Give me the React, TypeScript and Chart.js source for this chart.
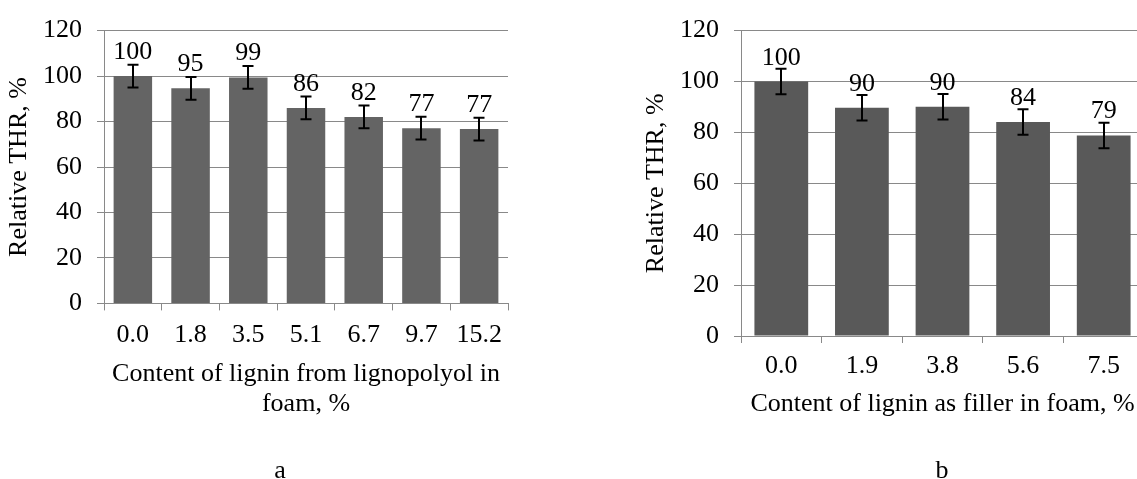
import React, { useEffect, useRef } from 'react';
import { Chart, registerables } from 'chart.js';

Chart.register(...registerables);

const FONT = "'Liberation Serif', 'Times New Roman', serif";

// Chart a
const categoriesA = ['0.0', '1.8', '3.5', '5.1', '6.7', '9.7', '15.2'];
const valuesA = [100, 94.6, 99.4, 86.0, 82.0, 77.1, 76.7];
const errorsA = [5, 5, 5, 5, 5, 5, 5];
const xTitleA = ['Content of lignin from lignopolyol in', 'foam, %'];

// Chart b
const categoriesB = ['0.0', '1.9', '3.8', '5.6', '7.5'];
const valuesB = [100, 89.7, 90.1, 84.1, 78.8];
const errorsB = [5, 5, 5, 5, 5];
const xTitleB = 'Content of lignin as filler in foam, %';

const yTitle = 'Relative THR, %';
const yMin = 0;
const yMax = 120;
const yStep = 20;

const GRID = '#898989';

type Opts = {
  categories: string[];
  values: number[];
  errors: number[];
  color: string;
  xTitle: string | string[];
  caption: string;
  captionX: number;
  captionY: number;
  padTop: number;
  padRight: number;
  padBottom: number;
  yWidth: number;
  xHeight: number;
  xTickPad: number;
};

function extrasPlugin(o: Opts) {
  return {
    id: 'extras' + o.caption,
    afterDatasetsDraw(chart: any) {
      const ctx = chart.ctx;
      const meta = chart.getDatasetMeta(0);
      const ys = chart.scales.y;
      ctx.save();
      ctx.strokeStyle = '#000';
      ctx.lineWidth = 2;
      meta.data.forEach((bar: any, i: number) => {
        const v = o.values[i];
        const e = o.errors[i];
        const top = ys.getPixelForValue(v + e);
        const bot = ys.getPixelForValue(v - e);
        const x = Math.round(bar.x);
        ctx.beginPath();
        ctx.moveTo(x, top);
        ctx.lineTo(x, bot);
        ctx.moveTo(x - 5.5, top);
        ctx.lineTo(x + 5.5, top);
        ctx.moveTo(x - 5.5, bot);
        ctx.lineTo(x + 5.5, bot);
        ctx.stroke();
      });
      ctx.fillStyle = '#000';
      ctx.font = `26px ${FONT}`;
      ctx.textAlign = 'center';
      ctx.textBaseline = 'alphabetic';
      meta.data.forEach((bar: any, i: number) => {
        ctx.fillText(String(Math.round(o.values[i])), bar.x, bar.y - 17);
      });
      ctx.fillText(o.caption, o.captionX, o.captionY);
      ctx.restore();
    },
  };
}

function makeConfig(o: Opts): any {
  return {
    type: 'bar',
    data: {
      labels: o.categories,
      datasets: [
        {
          data: o.values,
          backgroundColor: o.color,
          borderWidth: 0,
          categoryPercentage: 1,
          barPercentage: 0.667,
        },
      ],
    },
    options: {
      animation: false,
      responsive: false,
      maintainAspectRatio: false,
      devicePixelRatio: 1,
      layout: { padding: { left: 0, top: o.padTop, right: o.padRight, bottom: o.padBottom } },
      plugins: { legend: { display: false }, tooltip: { enabled: false } },
      scales: {
        x: {
          offset: true,
          grid: {
            display: true,
            drawOnChartArea: false,
            drawTicks: true,
            tickLength: 7,
            offset: true,
            color: GRID,
            lineWidth: 1,
          },
          border: { display: true, color: GRID, width: 1 },
          ticks: {
            color: '#000',
            font: { family: FONT, size: 26 },
            padding: o.xTickPad,
            autoSkip: false,
            maxRotation: 0,
            minRotation: 0,
          },
          title: {
            display: true,
            text: o.xTitle,
            color: '#000',
            font: { family: FONT, size: 26, lineHeight: 1.173 },
            padding: { top: 0, bottom: 0 },
          },
          afterFit: (s: any) => {
            s.height = o.xHeight;
          },
        },
        y: {
          min: yMin,
          max: yMax,
          grid: { color: GRID, lineWidth: 1, tickLength: 7, drawTicks: true },
          border: { display: true, color: GRID, width: 1 },
          ticks: {
            stepSize: yStep,
            color: '#000',
            font: { family: FONT, size: 26 },
            padding: 15,
          },
          title: {
            display: true,
            text: yTitle,
            color: '#000',
            font: { family: FONT, size: 26, lineHeight: 1.2 },
            padding: { top: 3.6, bottom: 0 },
          },
          afterFit: (s: any) => {
            s.width = o.yWidth;
          },
        },
      },
    },
    plugins: [extrasPlugin(o)],
  };
}

const optsA: Opts = {
  categories: categoriesA,
  values: valuesA,
  errors: errorsA,
  color: '#646464',
  xTitle: xTitleA,
  caption: 'a',
  captionX: 280,
  captionY: 478,
  padTop: 25,
  padRight: 52,
  padBottom: 59.25,
  yWidth: 104,
  xHeight: 116.35,
  xTickPad: 9,
};

const optsB: Opts = {
  categories: categoriesB,
  values: valuesB,
  errors: errorsB,
  color: '#595959',
  xTitle: xTitleB,
  caption: 'b',
  captionX: 305,
  captionY: 478,
  padTop: 17.3,
  padRight: 53,
  padBottom: 59.75,
  yWidth: 104,
  xHeight: 83.25,
  xTickPad: 8,
};

function BarChart({ opts, left, width }: { opts: Opts; left: number; width: number }) {
  const ref = useRef<HTMLCanvasElement | null>(null);
  useEffect(() => {
    if (!ref.current) return;
    const chart = new Chart(ref.current, makeConfig(opts));
    return () => chart.destroy();
  }, [opts]);
  return (
    <canvas
      ref={ref}
      width={width}
      height={479}
      style={{ position: 'absolute', left, top: 0, width, height: 479, display: 'block' }}
    />
  );
}

export default function App() {
  return (
    <div
      style={{
        position: 'fixed',
        left: 0,
        top: 0,
        width: 1137,
        height: 479,
        overflow: 'hidden',
        background: '#fff',
      }}
    >
      <BarChart opts={optsA} left={0} width={560} />
      <BarChart opts={optsB} left={637} width={560} />
    </div>
  );
}
